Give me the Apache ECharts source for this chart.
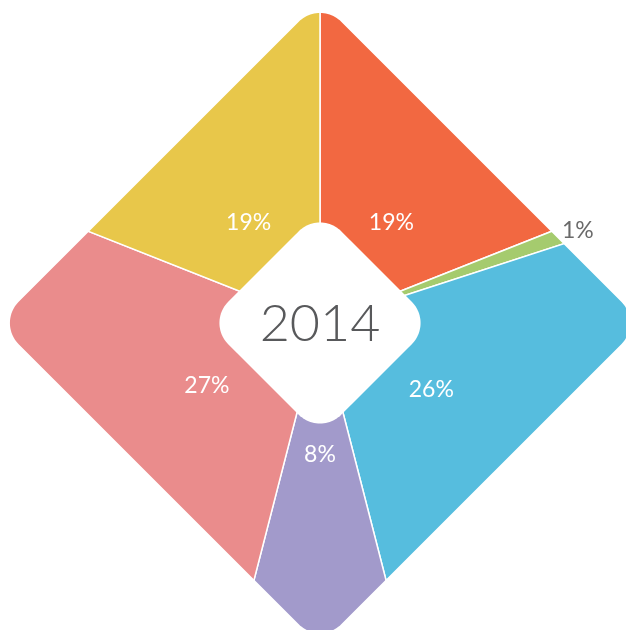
<!DOCTYPE html>
<html><head><meta charset="utf-8">
<script src="https://cdn.jsdelivr.net/npm/echarts@6/dist/echarts.min.js"></script>
<style>html,body{margin:0;padding:0;background:#fff}#c{width:626px;height:630px}</style>
</head><body><div id="c"></div>
<script>
const categories = ['Segment A', 'Segment B', 'Segment C', 'Segment D', 'Segment E', 'Segment F'];
const values = [19, 1, 26, 8, 27, 19];
const colors = ['#F26841', '#A5CB6E', '#56BDDE', '#A29ACB', '#EA8C8C', '#E8C74A'];
const outsideLabelIndex = [1];
const centerTitle = '2014';

const W = 626, H = 630;
const cx = 320, cy = 323;
const outerD = 322.5, outerR = 30;
const innerD = 113, innerR = 30;

function roundedDiamond(x0, y0, D, r, n) {
  const pts = [];
  const d = D - r * Math.SQRT2;
  for (let k = 0; k < 4; k++) {
    const th = k * Math.PI / 2;
    const ccx = x0 + d * Math.cos(th), ccy = y0 + d * Math.sin(th);
    for (let i = 0; i <= n; i++) {
      const t = th - Math.PI / 4 + (i / n) * Math.PI / 2;
      pts.push([ccx + r * Math.cos(t), ccy + r * Math.sin(t)]);
    }
  }
  return pts;
}

const outerPts = roundedDiamond(cx, cy, outerD, outerR, 24).reverse();
const frame = [[-20, -20], [W + 20, -20], [W + 20, H + 20], [-20, H + 20], [-20, -20]];
const maskPts = frame.concat(outerPts, [outerPts[0], [-20, -20]]);
const holePts = roundedDiamond(cx, cy, innerD, innerR, 24);

const font = 'Lato, "Open Sans", sans-serif';

const chart = echarts.init(document.getElementById('c'), null, { renderer: 'canvas' });
chart.setOption({
  animation: false,
  backgroundColor: '#fff',
  series: [
    {
      type: 'pie',
      z: 2,
      silent: true,
      center: [cx, cy],
      radius: [0, 340],
      startAngle: 90,
      clockwise: true,
      label: { show: false },
      labelLine: { show: false },
      itemStyle: { borderColor: '#fff', borderWidth: 1.5 },
      data: categories.map((c, i) => ({ name: c, value: values[i], itemStyle: { color: colors[i] } }))
    },
    {
      type: 'pie',
      z: 100,
      silent: true,
      center: [cx, cy + 5],
      radius: [0, 248],
      startAngle: 90,
      clockwise: true,
      avoidLabelOverlap: false,
      itemStyle: { color: 'rgba(0,0,0,0)', borderWidth: 0 },
      label: {
        show: true, position: 'inside', color: '#fff', fontSize: 23,
        fontFamily: font, fontWeight: 'normal',
        formatter: p => p.value + '%'
      },
      labelLine: { show: false },
      data: categories.map((c, i) => {
        const item = { name: c, value: values[i] };
        if (outsideLabelIndex.includes(i)) {
          item.label = { position: 'outside', color: '#6a6a6a', distanceToLabelLine: -29 };
          item.labelLine = { show: false, length: 40, length2: 0 };
        }
        return item;
      })
    }
  ],
  graphic: [
    { type: 'polygon', z: 50, silent: true, shape: { points: maskPts }, style: { fill: '#fff' } },
    { type: 'polygon', z: 50, silent: true, shape: { points: holePts }, style: { fill: '#fff' } },
    { type: 'text', z: 60, silent: true, x: cx, y: cy + 1,
      style: { text: centerTitle, fill: '#58595B', fontSize: 52, fontFamily: font, fontWeight: 300, align: 'center', verticalAlign: 'middle' } }
  ]
});
</script>
</body></html>
